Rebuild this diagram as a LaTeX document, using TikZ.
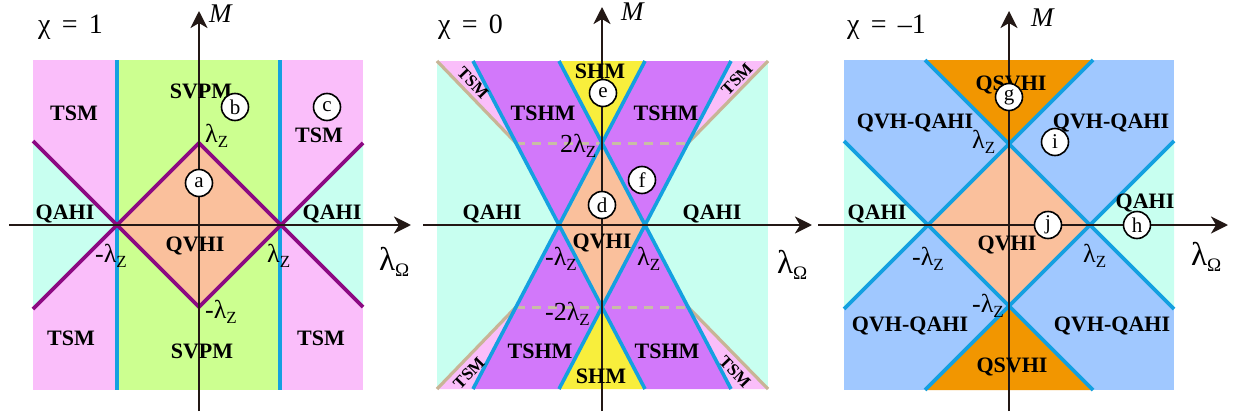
\documentclass[tikz,border=0pt]{standalone}
\usepackage{fontspec}
\setmainfont{Liberation Serif}
\usetikzlibrary{arrows.meta}
\definecolor{axisc}{HTML}{231815}
\definecolor{pinkr}{HTML}{FABEFA}
\definecolor{greenr}{HTML}{CCFF90}
\definecolor{cyanr}{HTML}{C8FFF0}
\definecolor{peachr}{HTML}{FAC09C}
\definecolor{purpr}{HTML}{D278FA}
\definecolor{yellowr}{HTML}{F8EE3C}
\definecolor{bluer}{HTML}{A0C8FF}
\definecolor{orangr}{HTML}{F29600}
\definecolor{bluel}{HTML}{14A0E0}
\definecolor{purpl}{HTML}{8C0A82}
\definecolor{tanl}{HTML}{C8B496}
\definecolor{dashl}{HTML}{C8BEA5}
\newcommand{\lamZ}{{\fontsize{26}{26}\selectfont λ}\raisebox{-5pt}{\fontsize{17}{17}\selectfont Z}}
\newcommand{\lamO}{{\fontsize{33}{33}\selectfont λ}\raisebox{-6pt}{\fontsize{19}{19}\selectfont Ω}}
\newcommand{\chieq}[1]{χ\hspace{0.4em}=\hspace{0.4em}#1}
\begin{document}
\begin{tikzpicture}[x=1pt,y=-1pt,
  lab/.style={font=\fontsize{22}{22}\selectfont\bfseries, inner sep=0pt, anchor=base},
  tsmlab/.style={font=\fontsize{17}{17}\selectfont\bfseries, inner sep=0pt, anchor=center},
  mathlab/.style={inner sep=0pt, anchor=base west},
  chilab/.style={font=\fontsize{28}{28}\selectfont, inner sep=0pt, anchor=base west},
  mlab/.style={font=\fontsize{27}{27}\selectfont\itshape, inner sep=0pt, anchor=base west},
  circ/.style={circle, draw=black, fill=white, line width=1.6pt, minimum size=27pt, inner sep=0pt, font=\fontsize{21}{21}\selectfont},
  axis/.style={line width=2.8pt, draw=axisc, -{Stealth[length=17pt,width=17pt,inset=5pt]}},
  bline/.style={line width=3.6pt, draw=bluel},
  pline/.style={line width=3.6pt, draw=purpl, line join=miter},
  tline/.style={line width=3.2pt, draw=tanl},
  dline/.style={line width=3pt, draw=dashl, dash pattern=on 9pt off 7pt}
]
\useasboundingbox (0,0) rectangle (1239,415);
\fill[white] (0,0) rectangle (1239,415);

% ================= Panel 1 =================
\fill[pinkr] (33,60) rectangle (363,390);
\fill[greenr] (117,60) rectangle (280,390);
\fill[cyanr] (33,141) -- (117,225) -- (33,309) -- cycle;
\fill[cyanr] (363,143) -- (280,225) -- (363,307) -- cycle;
\fill[peachr] (117,225) -- (199,143) -- (280,225) -- (199,307) -- cycle;
\draw[bline] (117,60) -- (117,390);
\draw[bline] (280,60) -- (280,390);
\draw[pline] (33,141) -- (199,307) -- (363,143);
\draw[pline] (33,309) -- (199,143) -- (363,307);
\coordinate (h1l) at (9,225); \coordinate (h1r) at (411,225);
\coordinate (v1b) at (199,411); \coordinate (v1t) at (199,11);
\draw[axis] (h1l) -- (h1r);
\draw[axis] (v1b) -- (v1t);
\node[chilab] (chi1) at (38,33) {\chieq{1}};
\node[mlab] (m1) at (209,23) {M};
\node[mathlab] (lo1) at (379,270) {\lamO};
\node[lab] (tsm1a) at (74,120) {TSM};
\node[lab] (tsm1b) at (319,142) {TSM};
\node[lab] (tsm1c) at (71,345) {TSM};
\node[lab] (tsm1d) at (321,345) {TSM};
\node[lab] (svpm1a) at (201,98) {SVPM};
\node[lab] (svpm1b) at (202,358) {SVPM};
\node[lab] (qahi1a) at (65,219) {QAHI};
\node[lab] (qahi1b) at (332,219) {QAHI};
\node[lab] (qvhi1) at (195,251) {QVHI};
\node[mathlab] (lz1a) at (205,142) {\lamZ};
\node[mathlab] (lz1b) at (95,262) {{\fontsize{26}{26}\selectfont -}\lamZ};
\node[mathlab] (lz1c) at (267,262) {\lamZ};
\node[mathlab] (lz1d) at (205,318) {{\fontsize{26}{26}\selectfont -}\lamZ};
\node[circ] (ca) at (199,183) {a};
\node[circ] (cb) at (235,107) {b};
\node[circ] (cc) at (327,107) {c};

% ================= Panel 2 =================
\fill[cyanr] (437,61) rectangle (768,389);
\fill[pinkr] (437,61) -- (473,61) -- (516,143) -- cycle;
\fill[pinkr] (768,61) -- (731,61) -- (688,143) -- cycle;
\fill[pinkr] (437,389) -- (473,389) -- (516,307) -- cycle;
\fill[pinkr] (768,389) -- (731,389) -- (688,307) -- cycle;
\fill[purpr] (473,61) -- (559,61) -- (602,143) -- (559,225) -- cycle;
\fill[purpr] (731,61) -- (645,61) -- (602,143) -- (645,225) -- cycle;
\fill[purpr] (473,389) -- (559,389) -- (602,307) -- (559,225) -- cycle;
\fill[purpr] (731,389) -- (645,389) -- (602,307) -- (645,225) -- cycle;
\fill[yellowr] (559,61) -- (645,61) -- (602,143) -- cycle;
\fill[yellowr] (559,389) -- (645,389) -- (602,307) -- cycle;
\fill[peachr] (559,225) -- (602,143) -- (645,225) -- (602,307) -- cycle;
\draw[dline] (516,143) -- (688,143);
\draw[dline] (516,307) -- (688,307);
\draw[tline] (437,61) -- (516,143);
\draw[tline] (768,61) -- (688,143);
\draw[tline] (437,389) -- (516,307);
\draw[tline] (768,389) -- (688,307);
\draw[bline] (473,389) -- (645,61);
\draw[bline] (559,61) -- (731,389);
\draw[bline] (473,61) -- (645,389);
\draw[bline] (731,61) -- (559,389);
\coordinate (h2l) at (423,225); \coordinate (h2r) at (812,225);
\coordinate (v2b) at (602,411); \coordinate (v2t) at (602,7);
\draw[axis] (h2l) -- (h2r);
\draw[axis] (v2b) -- (v2t);
\node[chilab] (chi2) at (438,33) {\chieq{0}};
\node[mlab] (m2) at (621,20) {M};
\node[mathlab] (lo2) at (777,273) {\lamO};
\node[lab] (shm2a) at (600,78) {SHM};
\node[lab] (shm2b) at (601,383) {SHM};
\node[lab] (tshm2a) at (543,120) {TSHM};
\node[lab] (tshm2b) at (666,120) {TSHM};
\node[lab] (tshm2c) at (540,358) {TSHM};
\node[lab] (tshm2d) at (667,358) {TSHM};
\node[tsmlab, rotate=-46] (tsm2a) at (473,83) {TSM};
\node[tsmlab, rotate=46] (tsm2b) at (737,79) {TSM};
\node[tsmlab, rotate=46] (tsm2c) at (469,373) {TSM};
\node[tsmlab, rotate=-46] (tsm2d) at (735,372) {TSM};
\node[lab] (qahi2a) at (492,219) {QAHI};
\node[lab] (qahi2b) at (712,219) {QAHI};
\node[lab] (qvhi2) at (602,248) {QVHI};
\node[mathlab] (lz2a) at (560,152) {{\fontsize{26}{26}\selectfont 2}\lamZ};
\node[mathlab] (lz2b) at (545,265) {{\fontsize{26}{26}\selectfont -}\lamZ};
\node[mathlab] (lz2c) at (637,265) {\lamZ};
\node[mathlab] (lz2d) at (545,320) {{\fontsize{26}{26}\selectfont -2}\lamZ};
\node[circ] (ce) at (603,93) {e};
\node[circ] (cf) at (642,180) {f};
\node[circ] (cd) at (602,205) {d};

% ================= Panel 3 =================
\fill[bluer] (844,60) rectangle (1174,390);
\fill[cyanr] (844,141) -- (928,225) -- (844,309) -- cycle;
\fill[cyanr] (1174,141) -- (1090,225) -- (1174,309) -- cycle;
\fill[peachr] (928,225) -- (1009,144) -- (1090,225) -- (1009,306) -- cycle;
\fill[orangr] (925,60) -- (1093,60) -- (1009,144) -- cycle;
\fill[orangr] (925,390) -- (1093,390) -- (1009,306) -- cycle;
\draw[bline] (844,309) -- (1093,60);
\draw[bline] (844,141) -- (1093,390);
\draw[bline] (925,60) -- (1174,309);
\draw[bline] (925,390) -- (1174,141);
\coordinate (h3l) at (818,225); \coordinate (h3r) at (1228,225);
\coordinate (v3b) at (1009,411); \coordinate (v3t) at (1009,11);
\draw[axis] (h3l) -- (h3r);
\draw[axis] (v3b) -- (v3t);
\node[chilab] (chi3) at (847,33) {\chieq{–1}};
\node[mlab] (m3) at (1031,27) {M};
\node[mathlab] (lo3) at (1191,265) {\lamO};
\node[lab] (qs3a) at (1011,90) {QSVHI};
\node[lab] (qs3b) at (1012,372) {QSVHI};
\node[lab] (qq3a) at (915,128) {QVH-QAHI};
\node[lab] (qq3b) at (1111,128) {QVH-QAHI};
\node[lab] (qq3c) at (910,331) {QVH-QAHI};
\node[lab] (qq3d) at (1112,331) {QVH-QAHI};
\node[lab] (qahi3a) at (877,219) {QAHI};
\node[lab] (qahi3b) at (1145,208) {QAHI};
\node[lab] (qvhi3) at (1007,250) {QVHI};
\node[mathlab] (lz3a) at (972,148) {\lamZ};
\node[mathlab] (lz3b) at (912,265) {{\fontsize{26}{26}\selectfont -}\lamZ};
\node[mathlab] (lz3c) at (1083,262) {\lamZ};
\node[mathlab] (lz3d) at (972,312) {{\fontsize{26}{26}\selectfont -}\lamZ};
\node[circ] (cg) at (1009,97) {g};
\node[circ] (ci) at (1055,142) {i};
\node[circ] (cj) at (1048,225) {j};
\node[circ] (ch) at (1137,225) {h};
\end{tikzpicture}
\end{document}
